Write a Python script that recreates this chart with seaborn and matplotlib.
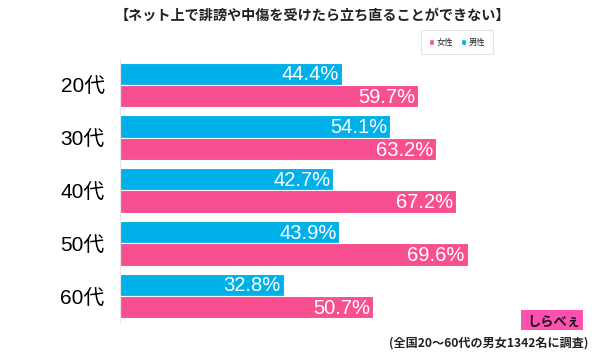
import matplotlib
matplotlib.use("Agg")
import matplotlib.pyplot as plt
import seaborn as sns
import pandas as pd
from matplotlib.patches import Patch, Rectangle

categories = ["20代", "30代", "40代", "50代", "60代"]
male = [44.4, 54.1, 42.7, 43.9, 32.8]
female = [59.7, 63.2, 67.2, 69.6, 50.7]
series = ["男性", "女性"]
colors = {"男性": "#00B0E8", "女性": "#F74F8F"}
title = "【ネット上で誹謗や中傷を受けたら立ち直ることができない】"
footnote = "(全国20〜60代の男女1342名に調査)"

sns.set_theme(style="white")
plt.rcParams["font.family"] = ["Liberation Sans", "Noto Sans CJK JP", "DejaVu Sans"]

df = pd.DataFrame({
    "age": categories * 2,
    "value": male + female,
    "sex": ["男性"] * len(categories) + ["女性"] * len(categories),
})

fig = plt.figure(figsize=(6, 3.53), dpi=100)
ax = fig.add_axes([0.2, 0.0867, 0.798, 0.7473])
sns.barplot(data=df, y="age", x="value", hue="sex", hue_order=series,
            order=categories, palette=colors, width=0.85, dodge=True,
            saturation=1, ax=ax, legend=False, linewidth=0.8, edgecolor="#ffffff")

ax.set_xlim(0, 95.8)
ax.set_ylim(4.5, -0.5)
ax.set_xlabel("")
ax.set_ylabel("")
ax.set_xticks([])
for s in ["top", "right", "bottom"]:
    ax.spines[s].set_visible(False)
ax.spines["left"].set_color("#e6e6e6")
ax.spines["left"].set_linewidth(0.8)
ax.tick_params(axis="y", length=0, pad=11, labelsize=15, labelcolor="#000000")

for cont in ax.containers:
    for bar in cont:
        w = bar.get_width()
        ax.text(w - 0.6, bar.get_y() + bar.get_height() / 2 + 0.02, f"{w:.1f}%",
                ha="right", va="center", color="white", fontsize=14.5)

fig.text(0.52, 0.955, title, ha="center", va="center", fontsize=10.2,
         fontweight="bold", family=["Noto Sans CJK JP"], color="#222222")

handles = [Patch(facecolor=colors["女性"], label="女性"),
           Patch(facecolor=colors["男性"], label="男性")]
leg = fig.legend(handles=handles, loc="center", bbox_to_anchor=(0.762, 0.88),
                 ncol=2, frameon=True, handlelength=0.6, handleheight=0.6,
                 handletextpad=0.3, columnspacing=1.0, borderpad=0.9,
                 prop={"family": ["Noto Sans CJK JP"], "size": 6})
leg.get_frame().set_edgecolor("#dddddd")
leg.get_frame().set_linewidth(0.8)
leg.get_frame().set_boxstyle("square", pad=0)

fig.text(0.98, 0.028, footnote, ha="right", va="center", fontsize=8.7,
         fontweight="bold", family=["Noto Sans CJK JP"], color="#222222")

fig.patches.append(Rectangle((521 / 600, 1 - 330 / 353), 62 / 600, 20 / 353,
                             transform=fig.transFigure, facecolor="#FF4FB0",
                             edgecolor="none"))
fig.text(554 / 600, 1 - 322 / 353, "しらべぇ", ha="center", va="center",
         fontsize=9.5, fontweight="bold", family=["Noto Sans CJK JP"], color="#111111")

fig.savefig("out.png", dpi=100)
